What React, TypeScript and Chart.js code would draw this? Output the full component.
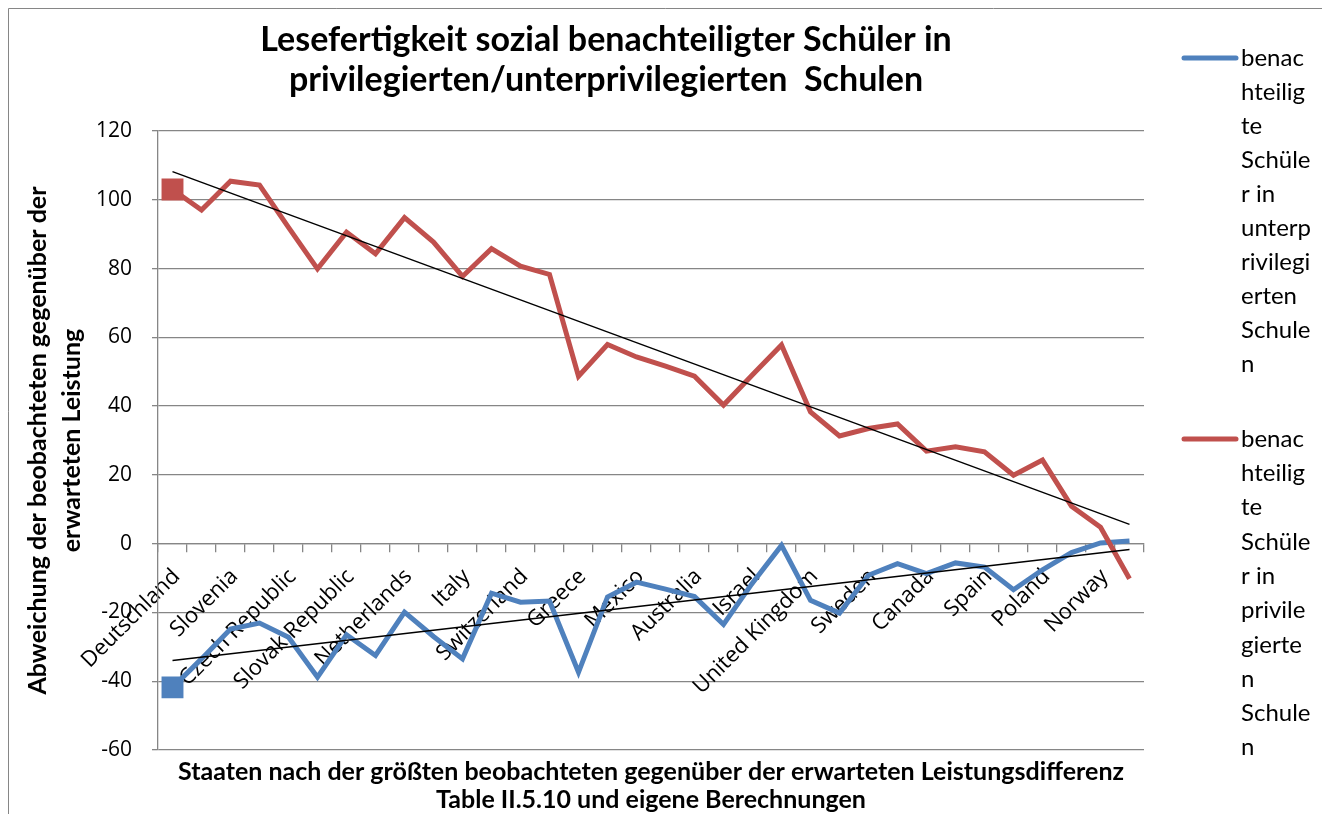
import React, { useEffect, useRef } from 'react';
import { Chart, registerables } from 'chart.js';

Chart.register(...registerables);

// 34 countries; only every other name is printed on the category axis
const categories: string[] = [
  'Deutschland', '', 'Slovenia', '', 'Czech Republic', '', 'Slovak Republic', '',
  'Netherlands', '', 'Italy', '', 'Switzerland', '', 'Greece', '', 'Mexico', '',
  'Australia', '', 'Israel', '', 'United Kingdom', '', 'Sweden', '', 'Canada', '',
  'Spain', '', 'Poland', '', 'Norway', '',
];

// benachteiligte Schüler in unterprivilegierten Schulen
const underprivileged: number[] = [
  -41.8, -33.5, -24.8, -23.1, -27.2, -38.8, -26.5, -32.5, -19.9, -27.0,
  -33.5, -14.4, -17.0, -16.7, -37.4, -15.5, -11.2, -13.2, -15.4, -23.5,
  -11.4, -0.5, -16.5, -20.2, -9.2, -5.8, -8.7, -5.6, -6.8, -13.4,
  -7.6, -2.6, 0.2, 0.8,
];

// benachteiligte Schüler in privilegierten Schulen
const privileged: number[] = [
  103.0, 97.0, 105.4, 104.3, 92.0, 79.9, 90.6, 84.3, 94.8, 87.7,
  77.7, 85.8, 80.7, 78.3, 48.7, 57.9, 54.3, 51.6, 48.7, 40.3,
  49.1, 57.8, 38.3, 31.3, 33.5, 34.8, 26.9, 28.2, 26.7, 19.9,
  24.3, 10.9, 4.8, -10.2,
];

// linear trend lines: value at first and last category
const underprivilegedTrend: number[] = [-34.0, -1.7];
const privilegedTrend: number[] = [108.2, 5.6];

const yTicks = { min: -60, max: 120, step: 20 };

const titleLines = [
  'Lesefertigkeit sozial benachteiligter Schüler in',
  'privilegierten/unterprivilegierten  Schulen',
];
const yTitleLines = ['Abweichung der beobachteten gegenüber der', 'erwarteten Leistung'];
const xTitleLines = [
  'Staaten nach der größten beobachteten gegenüber der erwarteten Leistungsdifferenz',
  'Table II.5.10 und eigene Berechnungen',
];
const legendUnder = ['benac', 'hteilig', 'te', 'Schüle', 'r in', 'unterp', 'rivilegi', 'erten', 'Schule', 'n'];
const legendPriv = ['benac', 'hteilig', 'te', 'Schüle', 'r in', 'privile', 'gierte', 'n', 'Schule', 'n'];

const BLUE = '#4F81BD';
const RED = '#C0504D';
const GRID = '#868686';
const CAL = "Lato, 'Open Sans', sans-serif";

function endpoints(pair: number[], n: number): (number | null)[] {
  const arr: (number | null)[] = new Array(n).fill(null);
  arr[0] = pair[0];
  arr[n - 1] = pair[1];
  return arr;
}

const textPlugin = {
  id: 'textPlugin',
  beforeDraw(chart: any) {
    const ctx = chart.ctx;
    ctx.save();
    ctx.strokeStyle = GRID;
    ctx.lineWidth = 1;
    ctx.beginPath();
    ctx.moveTo(0.5, chart.height);
    ctx.lineTo(0.5, 0.5);
    ctx.lineTo(chart.width, 0.5);
    ctx.stroke();
    ctx.restore();
  },
  afterDraw(chart: any) {
    const ctx = chart.ctx;
    ctx.save();
    ctx.fillStyle = '#000';
    ctx.textBaseline = 'middle';
    ctx.textAlign = 'center';
    ctx.font = `bold 34px ${CAL}`;
    ctx.fillText(titleLines[0], 598, 32);
    ctx.fillText(titleLines[1], 598, 72);

    const drawLegend = (lines: string[], color: string, y0: number, step: number) => {
      ctx.strokeStyle = color;
      ctx.lineWidth = 5;
      ctx.lineCap = 'round';
      ctx.beginPath();
      ctx.moveTo(1176, y0);
      ctx.lineTo(1228, y0);
      ctx.stroke();
      ctx.fillStyle = '#000';
      ctx.textAlign = 'left';
      ctx.font = `24px ${CAL}`;
      lines.forEach((t, i) => ctx.fillText(t, 1233, y0 + i * step));
    };
    drawLegend(legendUnder, BLUE, 50, 34);
    drawLegend(legendPriv, RED, 431, 34.3);
    ctx.restore();
  },
};

export default function App() {
  const ref = useRef<HTMLCanvasElement | null>(null);
  useEffect(() => {
    if (!ref.current) return;
    const n = categories.length;
    const firstOnly = (r: number) => (c: any) => (c.dataIndex === 0 ? r : 0);
    const chart = new Chart(ref.current, {
      type: 'line',
      data: {
        labels: categories,
        datasets: [
          {
            label: 'Trend privilegiert',
            data: endpoints(privilegedTrend, n),
            borderColor: '#000',
            borderWidth: 1.5,
            pointRadius: 0,
            spanGaps: true,
            order: 0,
          },
          {
            label: 'Trend unterprivilegiert',
            data: endpoints(underprivilegedTrend, n),
            borderColor: '#000',
            borderWidth: 1.5,
            pointRadius: 0,
            spanGaps: true,
            order: 0,
          },
          {
            label: 'benachteiligte Schüler in privilegierten Schulen',
            data: privileged,
            borderColor: RED,
            backgroundColor: RED,
            borderWidth: 5,
            pointStyle: 'rect',
            pointRadius: firstOnly(15.5),
            pointBorderWidth: 0,
            order: 1,
          },
          {
            label: 'benachteiligte Schüler in unterprivilegierten Schulen',
            data: underprivileged,
            borderColor: BLUE,
            backgroundColor: BLUE,
            borderWidth: 5,
            pointStyle: 'rect',
            pointRadius: firstOnly(15.5),
            pointBorderWidth: 0,
            order: 2,
          },
        ],
      },
      options: {
        responsive: false,
        animation: false,
        events: [],
        layout: { padding: { top: 123, right: 178, left: 0, bottom: 0 } },
        plugins: {
          legend: { display: false },
          title: { display: false },
          tooltip: { enabled: false },
        },
        scales: {
          x: {
            type: 'category',
            axis: 'x',
            position: { y: 0 },
            offset: true,
            grid: {
              offset: true,
              drawOnChartArea: false,
              drawTicks: true,
              tickLength: 8,
              color: GRID,
              lineWidth: 1.3,
            },
            border: { display: true, color: GRID, width: 1.3 },
            ticks: {
              autoSkip: false,
              minRotation: 45,
              maxRotation: 45,
              padding: 12,
              labelOffset: 4,
              color: '#000',
              font: { family: "'Open Sans', sans-serif", size: 22 },
            },
          },
          x2: {
            type: 'category',
            axis: 'x',
            position: 'bottom',
            offset: true,
            grid: { display: false },
            border: { display: false },
            ticks: { display: false },
            title: {
              display: true,
              text: xTitleLines,
              color: '#000',
              font: { family: CAL, size: 25, weight: 'bold', lineHeight: 1.12 },
              padding: { top: 0, bottom: 0 },
            },
            afterFit: (s: any) => {
              s.height = 64;
            },
          },
          y: {
            min: yTicks.min,
            max: yTicks.max,
            ticks: {
              stepSize: yTicks.step,
              color: '#000',
              padding: 20,
              font: { family: "'Open Sans', sans-serif", size: 21 },
            },
            grid: { color: GRID, lineWidth: 1.3, tickLength: 6 },
            border: { display: true, color: GRID, width: 1.3 },
            title: {
              display: true,
              text: yTitleLines,
              color: '#000',
              font: { family: CAL, size: 25, weight: 'bold', lineHeight: 1.36 },
              padding: { top: 13, bottom: 0 },
            },
            afterFit: (s: any) => {
              s.width = 150;
            },
          },
        },
      } as any,
      plugins: [textPlugin],
    });
    return () => chart.destroy();
  }, []);

  return (
    <div
      style={{
        position: 'fixed',
        left: 8,
        top: 8,
        width: 1314,
        height: 806,
        overflow: 'hidden',
        background: '#fff',
      }}
    >
      <canvas ref={ref} width={1314} height={806} style={{ width: 1314, height: 806, display: 'block' }} />
    </div>
  );
}
